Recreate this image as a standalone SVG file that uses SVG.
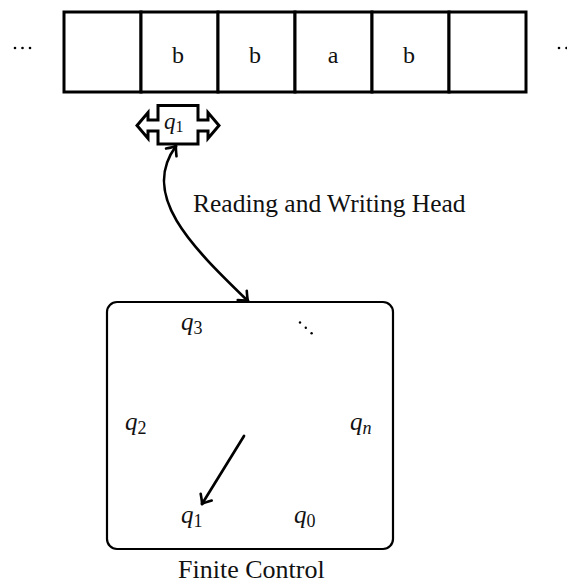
<svg xmlns="http://www.w3.org/2000/svg" width="567" height="588" viewBox="0 0 567 588">
  <style>
    .txt { font-family: "Liberation Serif", "Times New Roman", serif; fill: #111; }
    .math { font-family: "Liberation Serif", "Times New Roman", serif; font-style: italic; fill: #111; }
    .sub { font-family: "Liberation Serif", "Times New Roman", serif; font-style: normal; fill: #111; }
    .cell { fill: #fff; stroke: #000; stroke-width: 3; }
    .edge { fill: none; stroke: #000; stroke-width: 2.7; stroke-linecap: round; }
    .dot { fill: #000; }
  </style>
  <defs>
    <marker id="tip" markerUnits="userSpaceOnUse" markerWidth="18" markerHeight="18" viewBox="-11 -9 13 18" refX="0" refY="0" orient="auto-start-reverse">
      <path d="M-8,-6.5 Q-2.5,-1.5 0,0 Q-2.5,1.5 -8,6.5" fill="none" stroke="#000" stroke-width="2.6" stroke-linecap="round" stroke-linejoin="round"/>
    </marker>
  </defs>
  <rect width="567" height="588" fill="#fff"/>

  <!-- tape -->
  <g id="tape">
    <g class="dot">
      <circle cx="15" cy="48" r="1.3"/><circle cx="22.5" cy="48" r="1.3"/><circle cx="30" cy="48" r="1.3"/>
      <circle cx="559" cy="48" r="1.3"/><circle cx="566.5" cy="48" r="1.3"/>
    </g>
    <rect class="cell" x="64" y="12" width="77" height="80"/>
    <rect class="cell" x="141" y="12" width="77" height="80"/>
    <rect class="cell" x="218" y="12" width="77" height="80"/>
    <rect class="cell" x="295" y="12" width="77" height="80"/>
    <rect class="cell" x="372" y="12" width="77" height="80"/>
    <rect class="cell" x="449" y="12" width="77" height="80"/>
    <g class="txt" font-size="24" text-anchor="middle">
      <text x="178" y="63">b</text>
      <text x="255" y="63">b</text>
      <text x="333" y="63">a</text>
      <text x="409" y="63">b</text>
    </g>
  </g>

  <!-- read/write head -->
  <g id="head">
    <path d="M158,105.5 H198 V120 H208 V112.5 L219,125.5 L208,138.5 V131 H198 V144 H158 V131 H148 V138.5 L137,125.5 L148,112.5 V120 H158 Z" fill="#fff" stroke="#000" stroke-width="3" stroke-linejoin="miter"/>
    <text class="math" x="164" y="129" font-size="23">q<tspan class="sub" font-size="16" dy="3">1</tspan></text>
  </g>

  <!-- finite control -->
  <g id="control">
    <rect x="107" y="302" width="286" height="247" rx="10" ry="10" fill="#fff" stroke="#000" stroke-width="2.2"/>
    <text class="math" x="181" y="330" font-size="25">q<tspan class="sub" font-size="18" dy="4">3</tspan></text>
    <g class="dot">
      <circle cx="300" cy="322.5" r="1.2"/><circle cx="305.8" cy="327.8" r="1.2"/><circle cx="311.6" cy="333.2" r="1.2"/>
    </g>
    <text class="math" x="125" y="430" font-size="25">q<tspan class="sub" font-size="18" dy="4">2</tspan></text>
    <text class="math" x="350" y="430" font-size="25">q<tspan font-size="18" dy="4">n</tspan></text>
    <text class="math" x="181" y="523" font-size="25">q<tspan class="sub" font-size="18" dy="4">1</tspan></text>
    <text class="math" x="294" y="523" font-size="25">q<tspan class="sub" font-size="18" dy="4">0</tspan></text>
    <text class="txt" x="178" y="578" font-size="26">Finite Control</text>
  </g>

  <!-- connectors -->
  <g id="connectors">
    <path class="edge" d="M176,146 C140,195 190,245 248,301" marker-start="url(#tip)" marker-end="url(#tip)"/>
    <path class="edge" d="M244,436 L202,504" marker-end="url(#tip)"/>
  </g>
  <text class="txt" x="193" y="212" font-size="25.5">Reading and Writing Head</text>
</svg>
